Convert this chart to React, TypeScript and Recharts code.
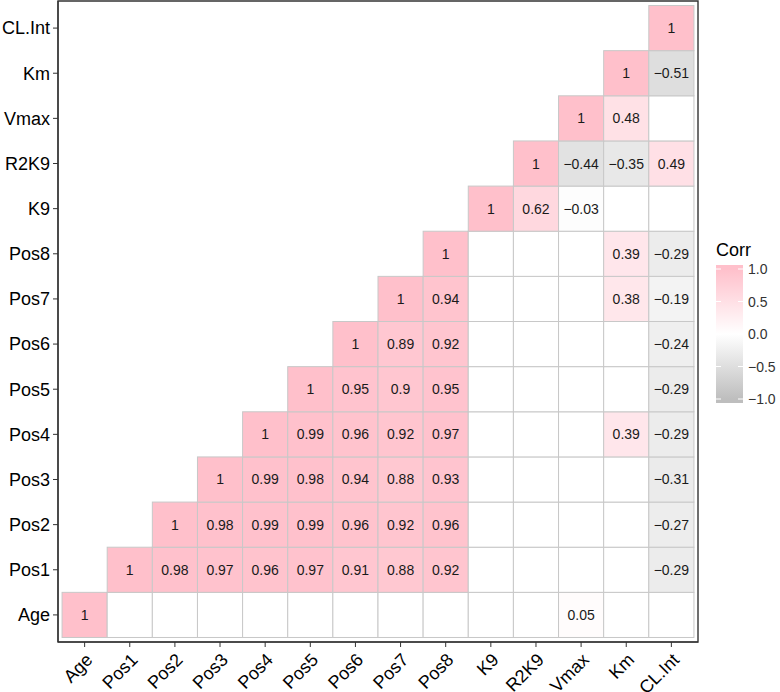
import React from 'react';
import { ScatterChart, Scatter, XAxis, YAxis, ReferenceArea, Legend } from 'recharts';

const vars = ['Age', 'Pos1', 'Pos2', 'Pos3', 'Pos4', 'Pos5', 'Pos6', 'Pos7', 'Pos8', 'K9', 'R2K9', 'Vmax', 'Km', 'CL.Int'];

// each row holds the upper triangle starting at the diagonal; null = blank (not significant)
const rowAge = [1, null, null, null, null, null, null, null, null, null, null, 0.05, null, null];
const rowPos1 = [1, 0.98, 0.97, 0.96, 0.97, 0.91, 0.88, 0.92, null, null, null, null, -0.29];
const rowPos2 = [1, 0.98, 0.99, 0.99, 0.96, 0.92, 0.96, null, null, null, null, -0.27];
const rowPos3 = [1, 0.99, 0.98, 0.94, 0.88, 0.93, null, null, null, null, -0.31];
const rowPos4 = [1, 0.99, 0.96, 0.92, 0.97, null, null, null, 0.39, -0.29];
const rowPos5 = [1, 0.95, 0.9, 0.95, null, null, null, null, -0.29];
const rowPos6 = [1, 0.89, 0.92, null, null, null, null, -0.24];
const rowPos7 = [1, 0.94, null, null, null, 0.38, -0.19];
const rowPos8 = [1, null, null, null, 0.39, -0.29];
const rowK9 = [1, 0.62, -0.03, null, null];
const rowR2K9 = [1, -0.44, -0.35, 0.49];
const rowVmax = [1, 0.48, null];
const rowKm = [1, -0.51];
const rowCLInt = [1];

const rows = [rowAge, rowPos1, rowPos2, rowPos3, rowPos4, rowPos5, rowPos6, rowPos7, rowPos8, rowK9, rowR2K9, rowVmax, rowKm, rowCLInt];

const legendTicks = [1, 0.5, 0, -0.5, -1];

const cells = rows.flatMap((row, r) => row.map((v, k) => ({ x: r + k, y: r, v })));

const FONT = '"Liberation Sans", Arial, Helvetica, sans-serif';
const CELL = 45.13;

const HIGH = [255, 192, 203]; // pink
const LOW = [190, 190, 190]; // grey

function corrColor(v: number) {
  const t = Math.min(1, Math.abs(v));
  const end = v >= 0 ? HIGH : LOW;
  const c = end.map(e => Math.round(255 + (e - 255) * t));
  return `rgb(${c[0]},${c[1]},${c[2]})`;
}

const fmt = (v: number) => (v < 0 ? '\u2212' + Math.abs(v) : String(v));

const CellShape = (props: any) => {
  const { cx, cy, payload } = props;
  const v = payload.v;
  return (
    <g>
      <rect
        x={cx - CELL / 2}
        y={cy - CELL / 2}
        width={CELL}
        height={CELL}
        fill={v == null ? '#ffffff' : corrColor(v)}
        stroke="#c8c8c8"
        strokeWidth={1}
      />
      {v != null && (
        <text x={cx} y={cy} textAnchor="middle" dominantBaseline="central" fontSize={14} fontFamily={FONT} fill="#1a1a1a">
          {fmt(v)}
        </text>
      )}
    </g>
  );
};

const XTick = (props: any) => {
  const { x, y, payload } = props;
  const ax = x + 9;
  const ay = y + 12;
  return (
    <text x={ax} y={ay} transform={`rotate(-45 ${ax} ${ay})`} textAnchor="end" fontSize={18} fontFamily={FONT} fill="#000">
      {vars[payload.value]}
    </text>
  );
};

const CorrLegend = () => {
  const ty = (v: number) => 33 + (1 - v) * 65;
  return (
    <svg width={72} height={180} style={{ fontFamily: FONT }}>
      <defs>
        <linearGradient id="corrGrad" gradientUnits="userSpaceOnUse" x1={0} y1={ty(1)} x2={0} y2={ty(-1)}>
          <stop offset="0%" stopColor={corrColor(1)} />
          <stop offset="50%" stopColor="#ffffff" />
          <stop offset="100%" stopColor={corrColor(-1)} />
        </linearGradient>
      </defs>
      <text x={8} y={20} fontSize={18} fill="#000">Corr</text>
      <rect x={8} y={29} width={27} height={138} fill="url(#corrGrad)" />
      {legendTicks.map(t => (
        <g key={t}>
          <line x1={8} x2={13} y1={ty(t)} y2={ty(t)} stroke="#fff" strokeWidth={1} />
          <line x1={30} x2={35} y1={ty(t)} y2={ty(t)} stroke="#fff" strokeWidth={1} />
          <text x={40} y={ty(t)} dominantBaseline="central" fontSize={14} fill="#333">
            {(t < 0 ? '\u2212' : '') + Math.abs(t).toFixed(1)}
          </text>
        </g>
      ))}
    </svg>
  );
};

export default function App() {
  return (
    <div style={{ position: 'absolute', left: 0, top: 0, width: 780, height: 692, background: '#fff', fontFamily: FONT }}>
      <ScatterChart width={780} height={692} margin={{ top: 1, right: 82, bottom: 0, left: 0 }}>
        <XAxis
          type="number"
          dataKey="x"
          domain={[-0.59, 13.59]}
          ticks={vars.map((_, i) => i)}
          interval={0}
          allowDataOverflow
          height={50}
          tickSize={5}
          tickMargin={2}
          axisLine={{ stroke: '#333', strokeWidth: 1.2 }}
          tickLine={{ stroke: '#333' }}
          tick={<XTick />}
        />
        <YAxis
          type="number"
          dataKey="y"
          domain={[-0.6, 13.6]}
          ticks={vars.map((_, i) => i)}
          interval={0}
          allowDataOverflow
          width={58}
          tickSize={5}
          tickMargin={3}
          axisLine={{ stroke: '#333', strokeWidth: 1.2 }}
          tickLine={{ stroke: '#333' }}
          tick={{ fontSize: 18, fill: '#000', fontFamily: FONT }}
          tickFormatter={(i: number) => vars[i]}
        />
        <Scatter data={cells} shape={<CellShape />} isAnimationActive={false} />
        <ReferenceArea x1={-0.59} x2={13.59} y1={-0.6} y2={13.6} fill="none" stroke="#333" strokeWidth={1.4} ifOverflow="visible" />
        <Legend
          layout="horizontal"
          align="center"
          verticalAlign="middle"
          content={<CorrLegend />}
          wrapperStyle={{ left: 708, top: 236, width: 72, height: 180 }}
        />
      </ScatterChart>
    </div>
  );
}
